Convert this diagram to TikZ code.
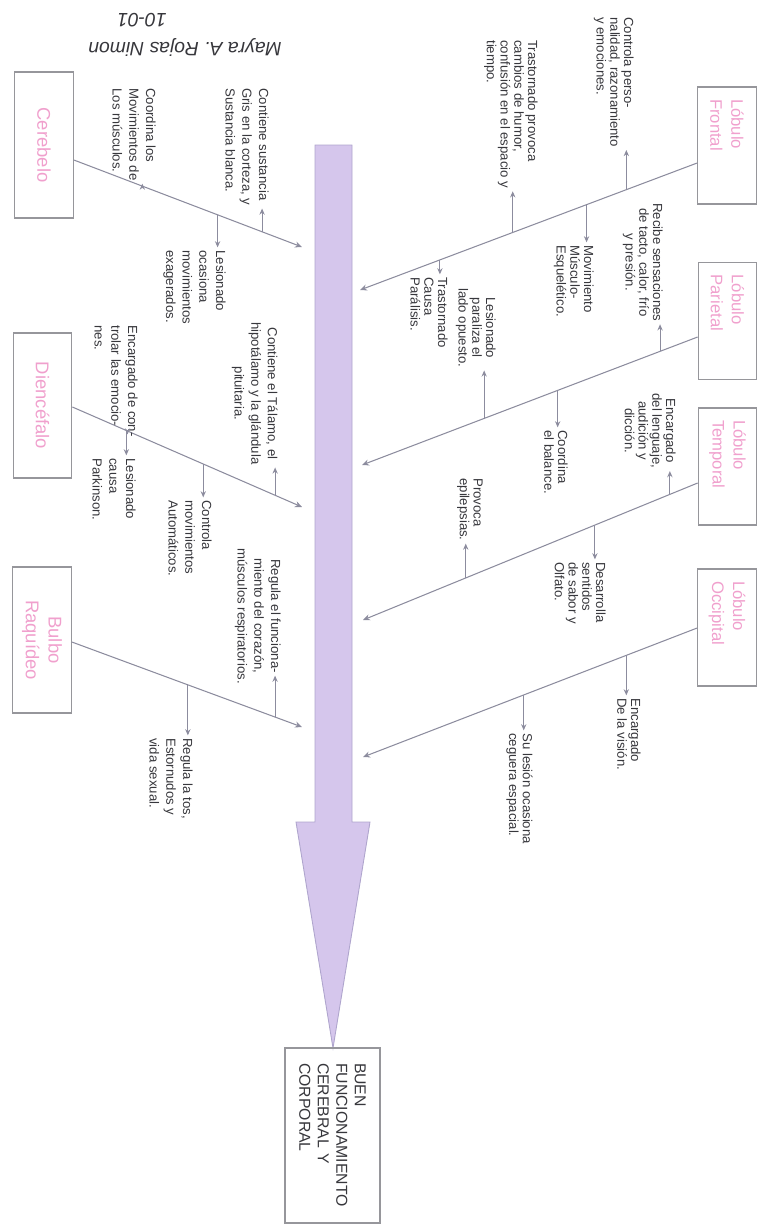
\documentclass[tikz,border=0pt]{standalone}
\usepackage{fontspec}
\setmainfont{Liberation Sans}
\usetikzlibrary{arrows.meta,calc}
\definecolor{linea}{RGB}{140,140,158}
\definecolor{tinta}{RGB}{55,55,60}
\definecolor{rosa}{RGB}{240,160,205}
\definecolor{marco}{RGB}{150,150,155}
\definecolor{lila}{RGB}{213,198,236}
\definecolor{lilaborde}{RGB}{175,165,205}
\begin{document}
\begin{tikzpicture}[x=0.02cm, y=-0.02cm,
  causa/.style={draw=marco, line width=0.7pt, rotate=-90, text=rosa, font=\fontsize{10.5}{13}\selectfont, align=center, inner sep=0pt, minimum height=1.17cm},
  lobulo/.style={causa, font=\fontsize{9.5}{12}\selectfont, align=left, inner xsep=0.24cm, text width=1.86cm},
  nota/.style={rotate=-90, anchor=north west, inner sep=0pt, text=tinta, align=left, font=\fontsize{7.5}{9.5}\selectfont},
  notad/.style={nota, font=\fontsize{7.5}{7.8}\selectfont},
  hueso/.style={draw=linea, line width=0.6pt, -{Stealth[length=4pt,width=3.5pt]}},
  rama/.style={draw=linea, line width=0.6pt, -{Stealth[length=3.5pt,width=3pt]}, shorten >=1.5pt}]
  \useasboundingbox (0,0) rectangle (758,1230);
  % Handwritten heading
  \node[rotate=180, text=tinta, font=\itshape\fontsize{11}{13}\selectfont] (fecha) at (142,20) {10-01};
  \node[rotate=180, text=tinta, font=\itshape\fontsize{11}{13}\selectfont] (nombre) at (185,47) {Mayra A. Rojas Nimon};
  % Spine
  \fill[lila, draw=lilaborde, line width=0.5pt] (315,145) -- (352,145) -- (352,822) -- (370,822) -- (333,1048) -- (296,822) -- (315,822) -- cycle;
  \node[draw=marco, line width=0.7pt, rotate=-90, text=tinta, font=\fontsize{9}{10.5}\selectfont, align=left, text width=2.9cm, inner xsep=0.3cm, inner ysep=0pt, minimum height=1.9cm] (meta) at (332.5,1135.5) {BUEN\\FUNCIONAMIENTO\\CEREBRAL Y\\CORPORAL};
  % Causes
  \node[causa, minimum width=2.92cm] (cerebelo) at (44,145) {Cerebelo};
  \node[causa, minimum width=2.9cm] (diencefalo) at (42.5,405.5) {Diencéfalo};
  \node[causa, minimum width=2.92cm] (bulbo) at (42,640) {Bulbo\\Raquídeo};
  \node[lobulo] (frontal) at (727,145.5) {Lóbulo\\Frontal};
  \node[lobulo] (parietal) at (727.5,321) {Lóbulo\\Parietal};
  \node[lobulo] (temporal) at (727.5,466.5) {Lóbulo\\Temporal};
  \node[lobulo] (occipital) at (727,627.5) {Lóbulo\\Occipital};
  % Bones
  \coordinate (s-cer) at ($(cerebelo.north)+(0,15)$);
  \coordinate (s-die) at ($(diencefalo.north)+(0,1.5)$);
  \coordinate (s-bul) at ($(bulbo.north)+(0,2)$);
  \coordinate (s-fro) at ($(frontal.south)+(0,17.5)$);
  \coordinate (s-par) at ($(parietal.south)+(0,16)$);
  \coordinate (s-tem) at ($(temporal.south)+(0,16.5)$);
  \coordinate (s-occ) at ($(occipital.south)+(0,0.5)$);
  \coordinate (e-cer) at (302,247);
  \coordinate (e-die) at (302,507);
  \coordinate (e-bul) at (302,727);
  \coordinate (e-fro) at (360,290);
  \coordinate (e-par) at (362,465);
  \coordinate (e-tem) at (363,620);
  \coordinate (e-occ) at (363,757);
  \foreach \n in {cer,die,bul,fro,par,tem,occ} \draw[hueso] (s-\n) -- (e-\n);
  % Notes, left
  \node[nota] (n-cer1) at (269,88) {Contiene sustancia\\Gris en la corteza, y\\Sustancia blanca.};
  \node[nota] (n-cer2) at (156,88) {Coordina los\\Movimientos de\\Los músculos.};
  \node[nota] (n-cer3) at (226,250) {Lesionado\\ocasiona\\movimientos\\exagerados.};
  \node[nota, align=center] (n-die1) at (278,322) {Contiene el Tálamo, el\\hipotálamo y la glándula\\pituitaria.};
  \node[nota] (n-die2) at (138,325) {Encargado de con-\\trolar las emocio-\\nes.};
  \node[nota] (n-die3) at (136,458) {Lesionado\\causa\\Parkinson.};
  \node[nota] (n-die4) at (212,500) {Controla\\movimientos\\Automáticos.};
  \node[nota, align=center] (n-bul1) at (281,548) {Regula el funciona-\\miento del corazón,\\músculos respiratorios.};
  \node[nota] (n-bul2) at (193,738) {Regula la tos,\\Estornudos y\\vida sexual.};
  % Notes, right
  \node[notad] (n-fro1) at (634,17) {Controla perso-\\nalidad, razonamiento\\y emociones.};
  \node[notad] (n-fro2) at (538,40) {Trastornado provoca\\cambios de humor,\\confusión en el espacio y\\tiempo.};
  \node[notad] (n-fro3) at (594,245) {Movimiento\\Músculo-\\Esquelético.};
  \node[notad] (n-fro4) at (448,277) {Trastornado\\Causa\\Parálisis.};
  \node[notad, align=center] (n-par1) at (663,203) {Recibe sensaciones\\de tacto, calor, frío\\y presión.};
  \node[notad, align=center] (n-par2) at (496,288) {Lesionado\\paraliza el\\lado opuesto.};
  \node[notad] (n-par3) at (568,430) {Coordina\\el balance.};
  \node[notad, align=center] (n-tem1) at (676,393) {Encargado\\del lenguaje,\\audición y\\dicción.};
  \node[notad] (n-tem2) at (483,478) {Provoca\\epilepsias.};
  \node[notad] (n-tem3) at (606,562) {Desarrolla\\sentidos\\de sabor y\\Olfato.};
  \node[notad] (n-occ1) at (641,698) {Encargado\\De la visión.};
  \node[notad] (n-occ2) at (533,733) {Su lesión ocasiona\\ceguera espacial.};
  % Branch arrows
  \foreach \n/\p/\t/\a in {cer/0.825/n-cer1/east, cer/0.30/n-cer2/east, cer/0.63/n-cer3/west,
      die/0.883/n-die1/east, die/0.24/n-die2/east, die/0.235/n-die3/west, die/0.57/n-die4/west,
      bul/0.504/n-bul2/west,
      fro/0.21/n-fro1/east, fro/0.547/n-fro2/east, fro/0.328/n-fro3/west, fro/0.763/n-fro4/west,
      par/0.112/n-par1/east, par/0.636/n-par2/east, par/0.417/n-par3/west,
      tem/0.083/n-tem1/east, tem/0.693/n-tem2/east, tem/0.307/n-tem3/west,
      occ/0.212/n-occ1/west, occ/0.519/n-occ2/west}
  {
    \path (s-\n) -- (e-\n) coordinate[pos=\p] (r-\t);
    \draw[rama] (r-\t) -- (r-\t |- \t.\a);
  }
  % this one stops at the end of the first line
  \path (s-bul) -- (e-bul) coordinate[pos=0.883] (r-n-bul1);
  \coordinate (f-n-bul1) at ($(n-bul1.north west)+(0,125)$);
  \draw[rama] (r-n-bul1) -- (r-n-bul1 |- f-n-bul1);
\end{tikzpicture}
\end{document}
